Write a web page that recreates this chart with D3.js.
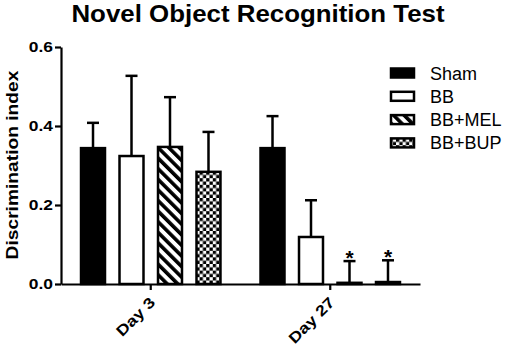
<!DOCTYPE html>
<html>
<head>
<meta charset="utf-8">
<script src="https://d3js.org/d3.v7.min.js"></script>
<style>
  body { margin: 0; background: #fff; }
  text { font-family: "Liberation Sans", Arial, sans-serif; }
</style>
</head>
<body>
<script>
    const days = ['Day 3', 'Day 27'];
    const groups = ['Sham', 'BB', 'BB+MEL', 'BB+BUP'];
    const means = {
        'Day 3': [0.344, 0.324, 0.347, 0.284],
        'Day 27': [0.344, 0.119, 0.003, 0.005]
    };
    const errs = {
        'Day 3': [0.064, 0.203, 0.126, 0.101],
        'Day 27': [0.081, 0.093, 0.055, 0.055]
    };
    const stars = {
        'Day 3': [false, false, false, false],
        'Day 27': [false, false, true, true]
    };
    const yTicks = [0, 0.2, 0.4, 0.6];

    const width = 510, height = 350;
    const font = '"Liberation Sans", Arial, sans-serif';
    const svg = d3.select('body').append('svg')
        .attr('width', width).attr('height', height);

    // patterns
    const defs = svg.append('defs');
    const stripe = defs.append('pattern')
        .attr('id', 'stripe')
        .attr('patternUnits', 'userSpaceOnUse')
        .attr('width', 7.5).attr('height', 7.5)
        .attr('patternTransform', 'rotate(-45)');
    stripe.append('rect').attr('width', 7.5).attr('height', 7.5).attr('fill', '#fff');
    stripe.append('rect').attr('width', 3.6).attr('height', 7.5).attr('fill', '#000');

    const check = defs.append('pattern')
        .attr('id', 'check')
        .attr('patternUnits', 'userSpaceOnUse')
        .attr('width', 6.6).attr('height', 6.6);
    check.append('rect').attr('width', 6.6).attr('height', 6.6).attr('fill', '#fff');
    check.append('rect').attr('width', 3.3).attr('height', 3.3).attr('fill', '#000');
    check.append('rect').attr('x', 3.3).attr('y', 3.3).attr('width', 3.3).attr('height', 3.3).attr('fill', '#000');

    const fills = ['#000', '#fff', 'url(#stripe)', 'url(#check)'];

    const x0 = d3.scaleBand().domain(days).range([61, 420]);
    const x1 = d3.scaleBand().domain(groups)
        .range([0, x0.bandwidth()])
        .paddingInner(0.377).paddingOuter(0.52);
    const y = d3.scaleLinear().domain([0, 0.6]).range([284, 47]);

    // title (the original font is wider than Arial, so stretch it a bit)
    svg.append('text')
        .attr('transform', 'translate(258,22) scale(1.125,1)')
        .attr('text-anchor', 'middle')
        .attr('font-size', 23).attr('font-weight', 'bold')
        .text('Novel Object Recognition Test');

    // bars
    days.forEach(day => {
        const g = svg.append('g').attr('transform', `translate(${x0(day)},0)`);
        groups.forEach((grp, i) => {
            const bx = x1(grp), bw = x1.bandwidth();
            const m = means[day][i], e = errs[day][i];
            const cx = bx + bw / 2;
            g.append('line')
                .attr('x1', cx).attr('x2', cx)
                .attr('y1', y(m)).attr('y2', y(m + e))
                .attr('stroke', '#000').attr('stroke-width', 2.5);
            g.append('line')
                .attr('x1', cx - 6).attr('x2', cx + 6)
                .attr('y1', y(m + e)).attr('y2', y(m + e))
                .attr('stroke', '#000').attr('stroke-width', 2.5);
            g.append('rect')
                .attr('x', bx).attr('y', y(m))
                .attr('width', bw).attr('height', Math.max(0, y(0) - y(m)))
                .attr('fill', fills[i])
                .attr('stroke', '#000').attr('stroke-width', 2.5);
            if (stars[day][i]) {
                g.append('text')
                    .attr('x', cx).attr('y', y(m + e) + 4)
                    .attr('text-anchor', 'middle')
                    .attr('font-size', 21).attr('font-weight', 'bold')
                    .text('*');
            }
        });
    });

    // y axis
    const yAxis = svg.append('g')
        .attr('transform', 'translate(61,0)')
        .call(d3.axisLeft(y).tickValues(yTicks).tickFormat(d3.format('.1f')).tickSize(6).tickSizeOuter(0));
    yAxis.select('.domain').attr('stroke-width', 2.2);
    yAxis.selectAll('.tick line').attr('stroke-width', 2.2);
    yAxis.selectAll('.tick text')
        .attr('font-size', 14.5).attr('font-weight', 'bold')
        .attr('font-family', font)
        .attr('fill', '#000')
        .attr('x', 0)
        .attr('transform', 'translate(-8,0) scale(1.2,1)');

    // x axis
    const xAxis = svg.append('g')
        .attr('transform', 'translate(0,284)')
        .call(d3.axisBottom(x0).tickSize(6).tickSizeOuter(0));
    xAxis.select('.domain').attr('stroke-width', 2.2);
    xAxis.selectAll('.tick line').attr('stroke-width', 2.2);
    xAxis.selectAll('.tick text')
        .attr('font-size', 15).attr('font-weight', 'bold')
        .attr('font-family', font)
        .attr('fill', '#000')
        .attr('text-anchor', 'end')
        .attr('x', 0).attr('y', 0)
        .attr('dy', '0.7em')
        .attr('transform', 'translate(-2,12) rotate(-45) scale(1.2,1)');

    // y label
    svg.append('text')
        .attr('transform', 'translate(18,165) rotate(-90) scale(1.13,1)')
        .attr('text-anchor', 'middle')
        .attr('font-size', 17).attr('font-weight', 'bold')
        .text('Discrimination index');

    // legend
    const legend = svg.append('g');
    groups.forEach((grp, i) => {
        const ly = 73 + i * 23.3;
        legend.append('rect')
            .attr('x', 391).attr('y', ly - 4.5)
            .attr('width', 23).attr('height', 9)
            .attr('fill', fills[i])
            .attr('stroke', '#000').attr('stroke-width', 2.5);
        legend.append('text')
            .attr('x', 430).attr('y', ly + 6.5)
            .attr('font-size', 18)
            .text(grp);
    });
</script>
</body>
</html>
